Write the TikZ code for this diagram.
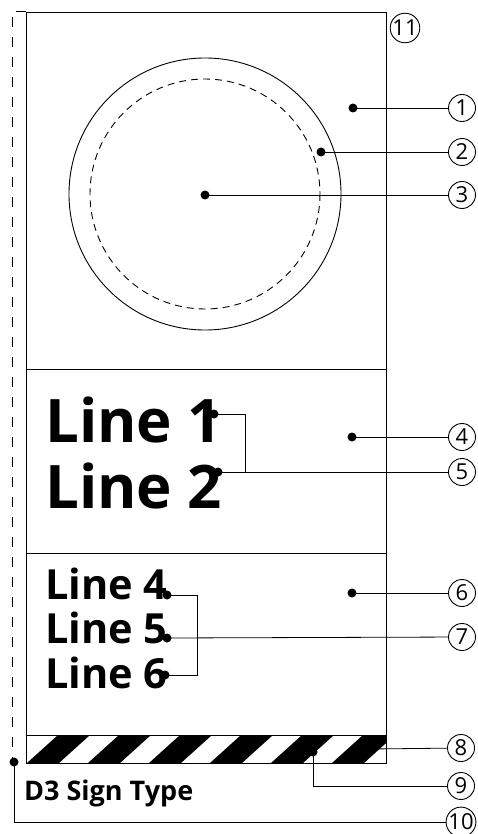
\documentclass[tikz,border=0pt]{standalone}
\usepackage{fontspec}
\setmainfont{Open Sans}
\begin{document}
\begin{tikzpicture}[x=1pt,y=-1pt,
  num/.style={circle,draw,line width=0.9pt,minimum size=27pt,inner sep=0pt,font=\fontsize{22}{22}\selectfont,fill=white},
  dot/.style={circle,fill=black,minimum size=9pt,inner sep=0pt},
  lead/.style={line width=0.8pt},
  frame/.style={line width=1pt},
  big/.style={anchor=base west,inner sep=0pt,font=\fontsize{60}{60}\bfseries\selectfont},
  mid/.style={anchor=base west,inner sep=0pt,font=\fontsize{41.5}{41.5}\bfseries\selectfont}]
\useasboundingbox (0,0) rectangle (478,834);
% frame
\draw[frame] (26,13) rectangle (386,763);
\draw[frame] (26,369) -- (386,369);
\draw[frame] (26,553) -- (386,553);
\draw[frame] (26,735) -- (386,735);
\draw[frame] (16,12) -- (26,12);
% stripes
\begin{scope}
\clip (26,735) rectangle (386,763);
\foreach \k in {0,...,5} {
  \fill (27+61*\k,763) -- (59+61*\k,763) -- (90+61*\k,735) -- (58+61*\k,735) -- cycle;
}
\end{scope}
% dashed left line
\draw[line width=0.8pt,dash pattern=on 10pt off 10pt] (12,17) -- (12,760);
% circles
\draw[line width=0.9pt] (205,194) circle (136);
\draw[line width=0.9pt,dash pattern=on 7pt off 5pt] (205,194) circle (115);
% texts
\node[big] (t1) at (45,442) {Line 1};
\node[big] (t2) at (45,508) {Line 2};
\node[mid] (t4) at (45,599) {Line 4};
\node[mid] (t5) at (45,643) {Line 5};
\node[mid] (t6) at (45,688) {Line 6};
\node[anchor=base west,inner sep=0pt,font=\fontsize{27}{27}\bfseries\selectfont] (t7) at (24,800) {D3 Sign Type};
% number circles
\node[num] (c11) at (405,28) {11};
\node[num] (c1) at (462,108) {1};
\node[num] (c2) at (462,152) {2};
\node[num] (c3) at (462,195) {3};
\node[num] (c4) at (462,437) {4};
\node[num] (c5) at (462,472) {5};
\node[num] (c6) at (462,593) {6};
\node[num] (c7) at (462,637) {7};
\node[num] (c8) at (461,748) {8};
\node[num] (c9) at (461,786) {9};
\node[num] (c10) at (461,822) {10};
% dots
\node[dot] (d1) at (353,108) {};
\node[dot] (d2) at (321,152) {};
\node[dot] (d3) at (205,195) {};
\node[dot] (d4) at (352,437) {};
\node[dot] (d5a) at (214,414) {};
\node[dot] (d5b) at (218,472) {};
\node[dot] (d6) at (352,593) {};
\node[dot] (d7a) at (167,595) {};
\node[dot] (d7b) at (167,638) {};
\node[dot] (d7c) at (165,675) {};
\node[dot] (d8) at (370,749) {};
\node[dot] (d9) at (313,752) {};
\node[dot] (d10) at (14,762) {};
\coordinate (j5) at (245,414);
\coordinate (j7a) at (197,595);
\coordinate (j7c) at (197,675);
% leaders
\draw[lead] (d1.center) -- (c1);
\draw[lead] (d2.center) -- (c2);
\draw[lead] (d3.center) -- (c3);
\draw[lead] (d4.center) -- (c4);
\draw[lead] (d5a.center) -- (j5) |- (c5);
\draw[lead] (d5b.center) -- (c5);
\draw[lead] (d6.center) -- (c6);
\draw[lead] (d7a.center) -- (j7a) -- (j7c) -- (d7c.center);
\draw[lead] (d7b.center) -- (c7);
\draw[lead] (d8.center) -- (c8);
\draw[lead] (d9.center) |- (c9);
\draw[lead] (d10.center) |- (c10);
\end{tikzpicture}
\end{document}
